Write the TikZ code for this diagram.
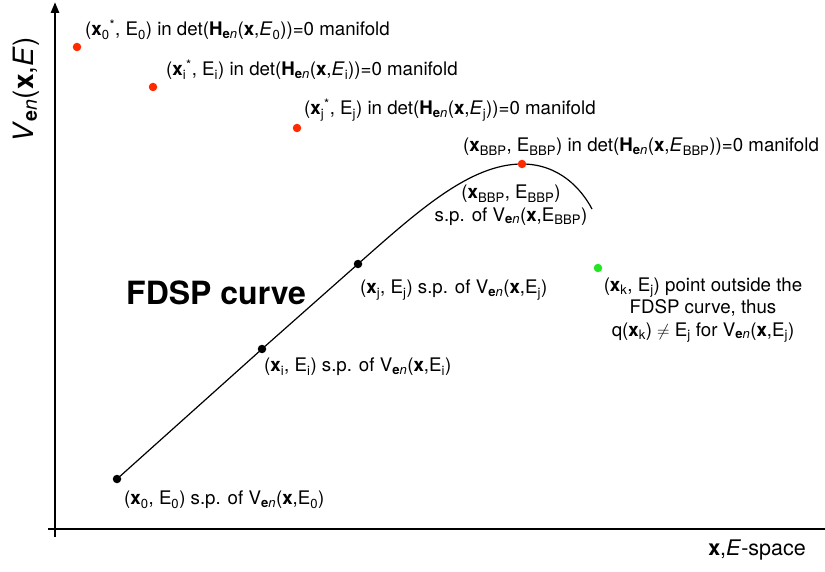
\documentclass[tikz,border=0pt]{standalone}
\usepackage{amsmath}
\usepackage{fontspec}
\setmainfont{TeX Gyre Heros}
\usetikzlibrary{arrows.meta,positioning,backgrounds}
\definecolor{DotRed}{HTML}{FF2A00}
\definecolor{DotGreen}{HTML}{22E622}
\newcommand{\bx}{\textbf{x}}
\newcommand{\sbs}[1]{$_{\text{#1}}$}
\newcommand{\en}{\sbs{\textbf{e}\textit{n}}}
\newcommand{\str}{$^{\text{*}}$}

\begin{document}
\begin{tikzpicture}[x=1pt,y=-1pt,
    axis/.style={line width=2.6pt},
    fdsp/.style={line width=1.2pt},
    dot/.style={circle,inner sep=0pt,minimum size=8.5pt},
    reddot/.style={dot,fill=DotRed},
    blackdot/.style={dot,fill=black},
    greendot/.style={dot,fill=DotGreen},
    lbl/.style={font=\fontsize{18.7}{22.5}\selectfont,inner sep=0pt},
    big/.style={inner sep=0pt}
  ]
    \useasboundingbox (0,0) rectangle (825,572);

    % axes
    \coordinate (ybot) at (55,537);
    \coordinate (ytop) at (55,2);
    \coordinate (xleft) at (48,529);
    \coordinate (xright) at (825,529);
    \draw[axis,-{Triangle[length=11pt,width=8pt]}] (ybot) -- (ytop);
    \draw[axis] (xleft) -- (xright);
    \node[big,rotate=90,font=\fontsize{28}{32}\selectfont] (ylbl) at (26,90) {\textit{V}\en(\bx,\textit{E})};
    \node[big,anchor=east,font=\fontsize{21.5}{26}\selectfont] (xlbl) at (806,550) {\bx,\textit{E}-space};

    % points
    \node[reddot] (s0) at (77,47) {};
    \node[reddot] (si) at (153,87) {};
    \node[reddot] (sj) at (297,128) {};
    \node[reddot] (bbp) at (522,164) {};
    \node[blackdot] (x0) at (117,479) {};
    \node[blackdot] (xi) at (262,349) {};
    \node[blackdot] (xj) at (358,264) {};
    \node[greendot] (xk) at (598,268) {};
    \coordinate (cend) at (592,209);

    % FDSP curve
    \begin{scope}[on background layer]
      \draw[fdsp] (x0.center) -- (xi.center) -- (xj.center)
        .. controls (418,211) and (470,164) .. (bbp.center)
        .. controls (560,164) and (582,190) .. (cend);
    \end{scope}

    % labels
    \node[lbl,anchor=west] (s0lbl) at (85,30)
      {(\bx\sbs{0}\str, E\sbs{0}) in det(\textbf{H}\en(\bx,\textit{E}\sbs{0}))=0 manifold};
    \node[lbl,anchor=west] (silbl) at (166,70)
      {(\bx\sbs{i}\str, E\sbs{i}) in det(\textbf{H}\en(\bx,\textit{E}\sbs{i}))=0 manifold};
    \node[lbl,anchor=west] (sjlbl) at (304,110)
      {(\bx\sbs{j}\str, E\sbs{j}) in det(\textbf{H}\en(\bx,\textit{E}\sbs{j}))=0 manifold};
    \node[lbl,anchor=west] (bbplbl) at (463,147)
      {(\bx\sbs{BBP}, E\sbs{BBP}) in det(\textbf{H}\en(\bx,\textit{E}\sbs{BBP}))=0 manifold};
    \node[lbl,align=center] (splbl) at (511,205)
      {(\bx\sbs{BBP}, E\sbs{BBP})\\s.p. of V\en(\bx,E\sbs{BBP})};
    \node[lbl,anchor=west] (xjlbl) at (360,290)
      {(\bx\sbs{j}, E\sbs{j}) s.p. of V\en(\bx,E\sbs{j})};
    \node[lbl,anchor=west] (xilbl) at (264,367)
      {(\bx\sbs{i}, E\sbs{i}) s.p. of V\en(\bx,E\sbs{i})};
    \node[lbl,anchor=west] (x0lbl) at (124,500)
      {(\bx\sbs{0}, E\sbs{0}) s.p. of V\en(\bx,E\sbs{0})};
    \node[lbl,align=center] (xklbl) at (703,310)
      {(\bx\sbs{k}, E\sbs{j}) point outside the\\FDSP curve, thus\\q(\bx\sbs{k}) $\neq$ E\sbs{j} for V\en(\bx,E\sbs{j})};
    \node[anchor=west,inner sep=0pt,font=\fontsize{32}{38}\selectfont\bfseries] (curvelbl) at (126,293) {FDSP curve};
  \end{tikzpicture}
\end{document}
